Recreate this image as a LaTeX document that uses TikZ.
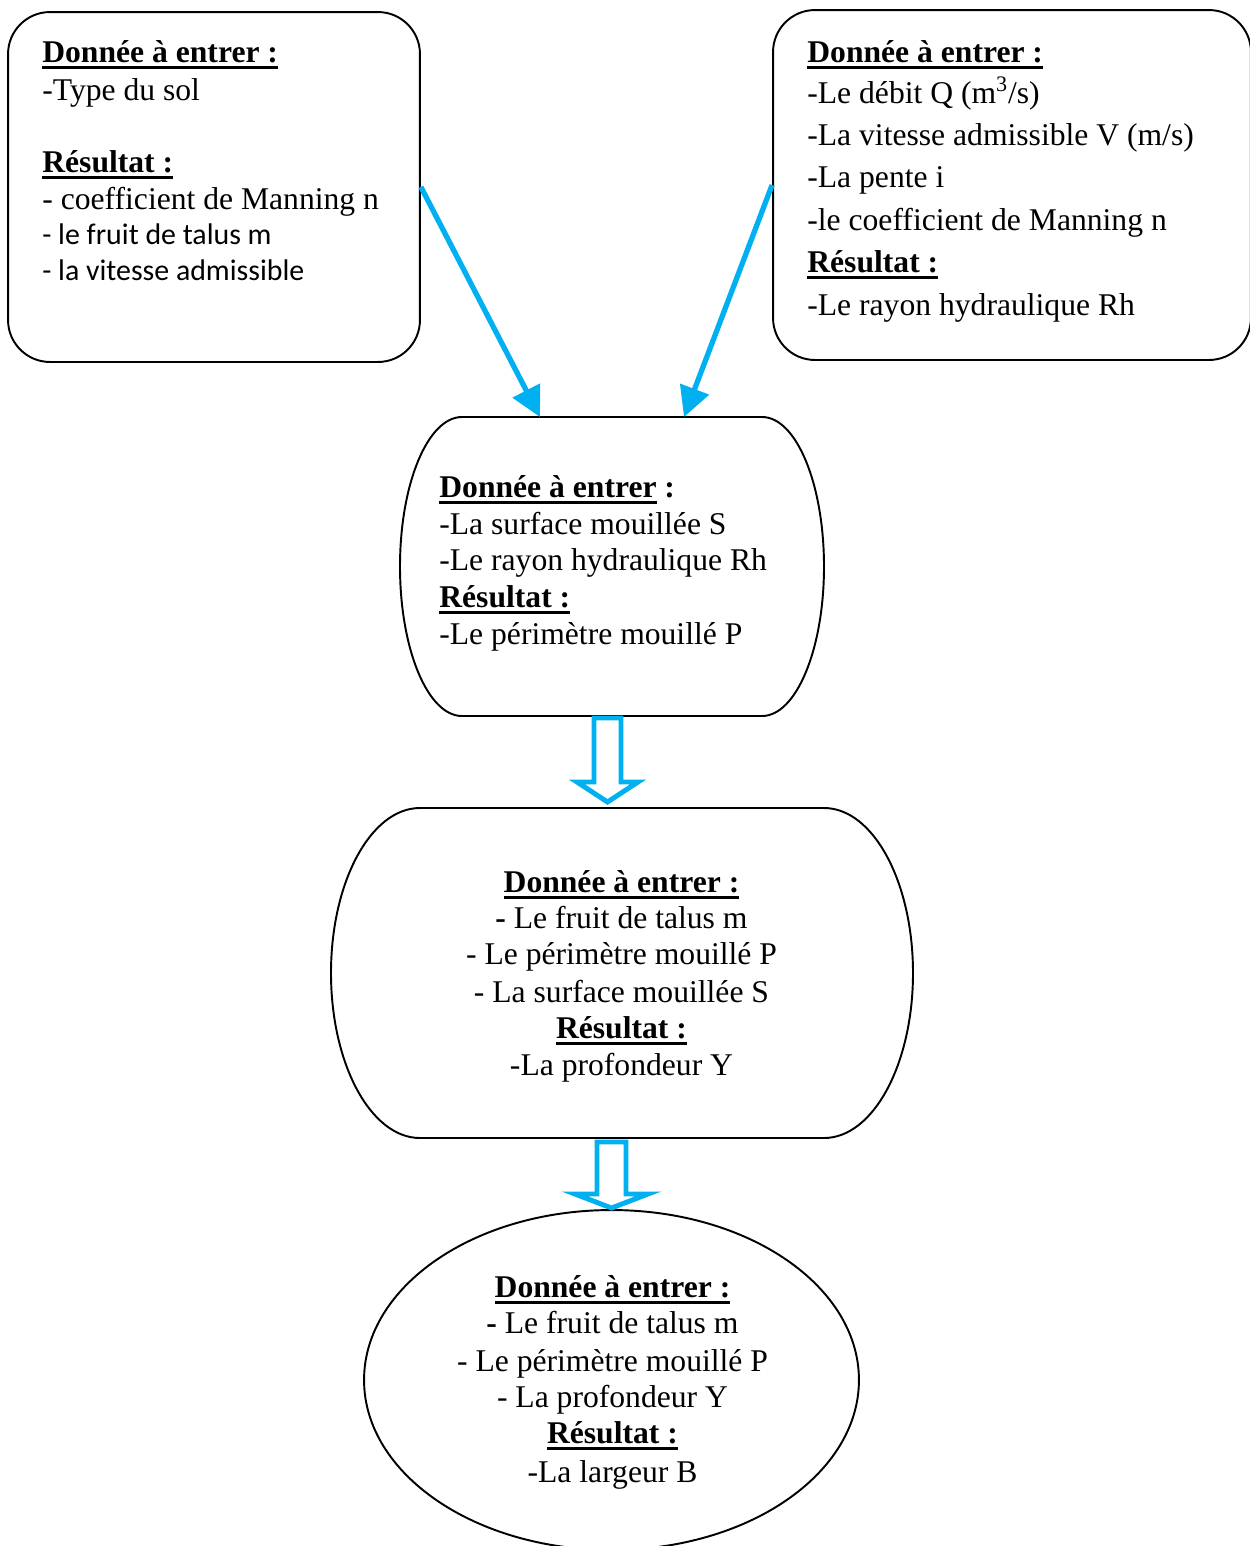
\documentclass[tikz,border=0pt]{standalone}
\usepackage{fontspec}
\setmainfont{Liberation Serif}
\newfontfamily\calfont{Carlito}
\usetikzlibrary{arrows.meta,shapes.geometric}
\definecolor{arrowblue}{RGB}{0,176,240}
\newcommand\ulbf[1]{\setbox0\hbox{\bfseries #1}\rlap{\rule[-4pt]{\wd0}{1.7pt}}\box0}
\tikzset{
  box/.style={draw, line width=1.1pt},
  txt/.style={anchor=base west, inner sep=0pt, font=\fontsize{18}{22}\selectfont},
  ctxt/.style={anchor=base, inner sep=0pt, font=\fontsize{18}{22}\selectfont},
  stxt/.style={anchor=base west, inner sep=0pt, font=\calfont\fontsize{17}{21}\selectfont},
  thinarrow/.style={draw=arrowblue, line width=3pt, -{Triangle[length=17pt,width=17pt]}},
  blockarrow/.style={draw=arrowblue, fill=white, line width=2.8pt, line join=miter}
}
\begin{document}
\begin{tikzpicture}[x=0.02cm,y=-0.02cm]
\useasboundingbox (0,0) rectangle (1250,1546);
\fill[white] (0,0) rectangle (1250,1546);

% top boxes
\node[box, rounded corners=0.84cm, minimum width=8.24cm, minimum height=7cm, inner sep=0pt] (tl) at (214,187) {};
\node[box, rounded corners=0.84cm, minimum width=9.56cm, minimum height=7cm, inner sep=0pt] (tr) at (1012,185) {};

% middle shape 1
\draw[box] (462,417) -- (762,417) arc[start angle=-90,end angle=90,x radius=62,y radius=149.5]
  -- (462,716) arc[start angle=90,end angle=270,x radius=62,y radius=149.5] -- cycle;
\coordinate (m1a) at (540,417);
\coordinate (m1b) at (684,417);
\coordinate (m1bot) at (607.5,718);

% middle shape 2
\draw[box] (420,808) -- (824,808) arc[start angle=-90,end angle=90,x radius=89,y radius=165]
  -- (420,1138) arc[start angle=90,end angle=270,x radius=89,y radius=165] -- cycle;
\coordinate (m2bot) at (611.5,1142);

% bottom ellipse
\node[box, ellipse, minimum width=9.9cm, minimum height=6.8cm, inner sep=0pt] (el) at (611.5,1380) {};

% thin arrows
\draw[thinarrow] (tl.east) -- (m1a);
\draw[thinarrow] (tr.west) -- (m1b);

% block arrows
\draw[blockarrow, shift={(m1bot)}] (-13.5,0) -- (13.5,0) -- (13.5,64) -- (30.5,64) -- (0,84) -- (-30.5,64) -- (-13.5,64) -- cycle;
\draw[blockarrow, shift={(m2bot)}] (-14.5,0) -- (14.5,0) -- (14.5,52) -- (36.5,52) -- (0,66) -- (-36.5,52) -- (-14.5,52) -- cycle;

% top-left text
\node[txt] (tl1) at (42,62) {\ulbf{Donnée à entrer :}};
\node[txt] (tl2) at (42,100) {-Type du sol};
\node[txt] (tl3) at (42,172) {\ulbf{Résultat :}};
\node[txt] (tl4) at (42,209) {- coefficient de Manning n};
\node[stxt] (tl5) at (42,244) {- le fruit de talus m};
\node[stxt] (tl6) at (42,280) {- la vitesse admissible};

% top-right text
\node[txt] (tr1) at (807,62) {\ulbf{Donnée à entrer :}};
\node[txt] (tr2) at (807,103) {-Le débit Q (m\textsuperscript{3}/s)};
\node[txt] (tr3) at (807,145) {-La vitesse admissible V (m/s)};
\node[txt] (tr4) at (807,187) {-La pente i};
\node[txt] (tr5) at (807,230) {-le coefficient de Manning n};
\node[txt] (tr6) at (807,272) {\ulbf{Résultat :}};
\node[txt] (tr7) at (807,315) {-Le rayon hydraulique Rh};

% middle 1 text
\node[txt] (ma1) at (439,497) {\ulbf{Donnée à entrer}\textbf{ :}};
\node[txt] (ma2) at (439,534) {-La surface mouillée S};
\node[txt] (ma3) at (439,570) {-Le rayon hydraulique Rh};
\node[txt] (ma4) at (439,607) {\ulbf{Résultat :}};
\node[txt] (ma5) at (439,644) {-Le périmètre mouillé P};

% middle 2 text
\node[ctxt] (mb1) at (621.5,892) {\ulbf{Donnée à entrer :}};
\node[ctxt] (mb2) at (621.5,928) {\textbf{-} Le fruit de talus m};
\node[ctxt] (mb3) at (621.5,964) {- Le périmètre mouillé P};
\node[ctxt] (mb4) at (621.5,1002) {- La surface mouillée S};
\node[ctxt] (mb5) at (621.5,1038) {\ulbf{Résultat :}};
\node[ctxt] (mb6) at (621.5,1075) {-La profondeur Y};

% bottom text
\node[ctxt] (bb1) at (612.5,1297) {\ulbf{Donnée à entrer :}};
\node[ctxt] (bb2) at (612.5,1333) {\textbf{-} Le fruit de talus m};
\node[ctxt] (bb3) at (612.5,1371) {- Le périmètre mouillé P};
\node[ctxt] (bb4) at (612.5,1407) {- La profondeur Y};
\node[ctxt] (bb5) at (612.5,1443) {\ulbf{Résultat :}};
\node[ctxt] (bb6) at (612.5,1482) {-La largeur B};
\end{tikzpicture}
\end{document}
